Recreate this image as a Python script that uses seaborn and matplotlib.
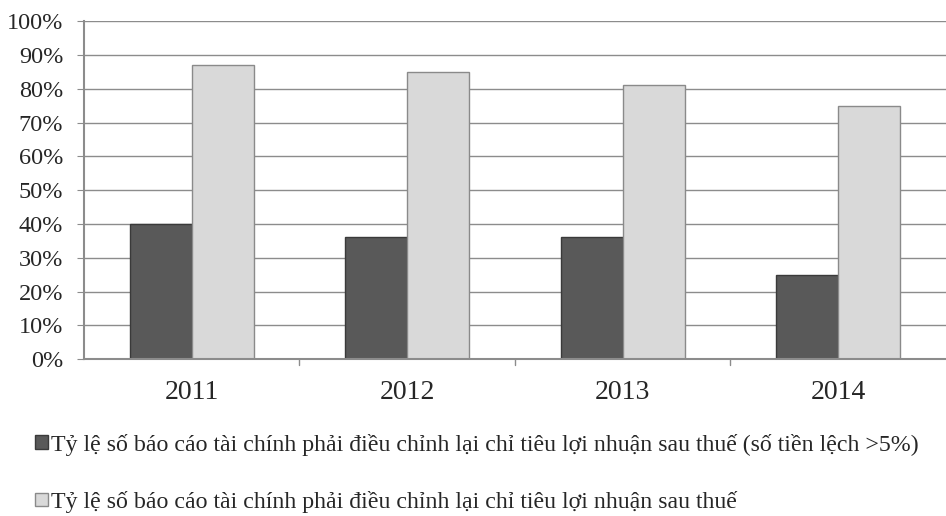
import pandas as pd
import matplotlib.pyplot as plt
import seaborn as sns
from matplotlib.patches import Patch

years = ["2011", "2012", "2013", "2014"]
dieu_chinh_lech_5 = [40, 36, 36, 25]
dieu_chinh = [87, 85, 81, 75]
series_names = [
    "Tỷ lệ số báo cáo tài chính phải điều chỉnh lại chỉ tiêu lợi nhuận sau thuế (số tiền lệch >5%)",
    "Tỷ lệ số báo cáo tài chính phải điều chỉnh lại chỉ tiêu lợi nhuận sau thuế",
]
colors = ["#595959", "#d9d9d9"]
edges = ["#3a3a3a", "#8a8a8a"]

df = pd.DataFrame({
    "year": years * 2,
    "value": dieu_chinh_lech_5 + dieu_chinh,
    "series": [series_names[0]] * 4 + [series_names[1]] * 4,
})

sns.set_style("white")
plt.rcParams["font.family"] = ["Liberation Serif", "DejaVu Serif"]

fig = plt.figure(figsize=(9.46, 5.16), dpi=100)
ax = fig.add_axes([0.0888, 0.304, 0.911, 0.655])
sns.barplot(data=df, x="year", y="value", hue="series", palette=colors,
            width=0.575, gap=0, ax=ax, legend=False, saturation=1)
for i, bar in enumerate(ax.patches[:8]):
    bar.set_edgecolor(edges[i // 4])
    bar.set_linewidth(1)

ax.set_ylim(0, 100)
ax.set_xlim(-0.5, 3.5)
ax.set_yticks(range(0, 101, 10))
ax.set_yticklabels([f"{v}%" for v in range(0, 101, 10)], fontsize=17.5)
ax.yaxis.grid(True, color="#8c8c8c", linewidth=1)
ax.set_axisbelow(True)
ax.set_xlabel("")
ax.set_ylabel("")
ax.tick_params(axis="x", labelsize=20, length=0, pad=15)
ax.tick_params(axis="y", left=True, length=5, color="#8c8c8c", pad=10)
for t in [0.5, 1.5, 2.5]:
    ax.plot([t, t], [0, -0.018], transform=ax.get_xaxis_transform(),
            color="#8c8c8c", lw=1, clip_on=False)
for s in ["top", "right"]:
    ax.spines[s].set_visible(False)
for s in ["left", "bottom"]:
    ax.spines[s].set_color("#8c8c8c")
    ax.spines[s].set_linewidth(1.5)

handles = [Patch(facecolor=c, edgecolor=e, label=n) for c, e, n in zip(colors, edges, series_names)]
fig.legend(handles=handles, loc="upper left", bbox_to_anchor=(0.0264, 0.178),
           frameon=False, fontsize=17.2, handlelength=0.55, handleheight=0.5,
           handletextpad=0.16, labelspacing=1.47, borderaxespad=0)

fig.savefig("out.png", dpi=100)
